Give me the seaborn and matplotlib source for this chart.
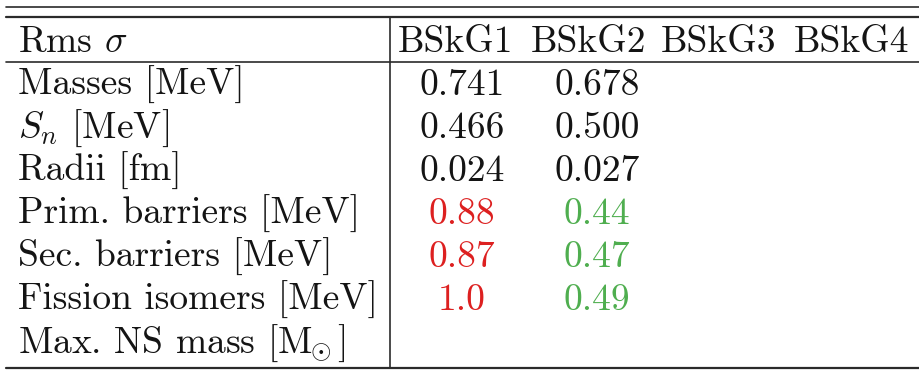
import numpy as np
import pandas as pd
import seaborn as sns
import matplotlib.pyplot as plt

# table content
row_labels = ["Masses [MeV]", "$S_n$ [MeV]", "Radii [fm]", "Prim. barriers [MeV]",
              "Sec. barriers [MeV]", "Fission isomers [MeV]", r"Max. NS mass [M$_{\!\!\odot}$]"]
models = ["BSkG1", "BSkG2", "BSkG3", "BSkG4"]
bskg1 = ["0.741", "0.466", "0.024", "0.88", "0.87", "1.0", ""]
bskg2 = ["0.678", "0.500", "0.027", "0.44", "0.47", "0.49", ""]
bskg3 = ["", "", "", "", "", "", ""]
bskg4 = ["", "", "", "", "", "", ""]
# colour of each cell: k = black, r = worse, g = better
colours1 = ["k", "k", "k", "r", "r", "r", "k"]
colours2 = ["k", "k", "k", "g", "g", "g", "k"]

df = pd.DataFrame({"BSkG1": bskg1, "BSkG2": bskg2, "BSkG3": bskg3, "BSkG4": bskg4},
                  index=row_labels)
cols = pd.DataFrame({"BSkG1": colours1, "BSkG2": colours2,
                     "BSkG3": ["k"] * 7, "BSkG4": ["k"] * 7}, index=row_labels)
palette = {"k": "#141414", "r": "#dd2020", "g": "#4fae4f"}

sns.set_theme(style="white")
plt.rcParams['font.family'] = ['cmr10', 'DejaVu Serif']
plt.rcParams['mathtext.fontset'] = 'cm'
plt.rcParams['axes.unicode_minus'] = False

fig = plt.figure(figsize=(9.2, 3.72), dpi=100)
ax = fig.add_axes([0, 0, 1, 1])
ax.set_xlim(0, 920)
ax.set_ylim(372, 0)
ax.axis("off")

fs = 27
head_x = [456, 589, 719, 852]
val_x = [462, 597, 719, 852]
head_base = 52
row_base = 95
row_step = 43

# rules
line_c = "#2b2b2b"
ax.plot([6, 920], [7, 7], color=line_c, lw=1.2)
ax.plot([6, 920], [17, 17], color=line_c, lw=1.6)
ax.plot([6, 920], [62, 62], color=line_c, lw=1.2)
ax.plot([6, 920], [368, 368], color=line_c, lw=1.6)
ax.plot([390, 390], [17, 368], color=line_c, lw=1.2)

ax.text(18, head_base, r"Rms $\sigma$", fontsize=fs, va="baseline", ha="left", color=palette["k"])
for j, m in enumerate(models):
    ax.text(head_x[j], head_base, m, fontsize=fs, va="baseline", ha="center", color=palette["k"])

for i, lab in enumerate(df.index):
    y = row_base + i * row_step
    ax.text(18, y, lab, fontsize=fs, va="baseline", ha="left", color=palette["k"])
    for j, m in enumerate(models):
        v = df.loc[lab, m]
        if v:
            ax.text(val_x[j], y, v, fontsize=fs, va="baseline", ha="center",
                    color=palette[cols.loc[lab, m]])

plt.savefig("out.png", dpi=100)
